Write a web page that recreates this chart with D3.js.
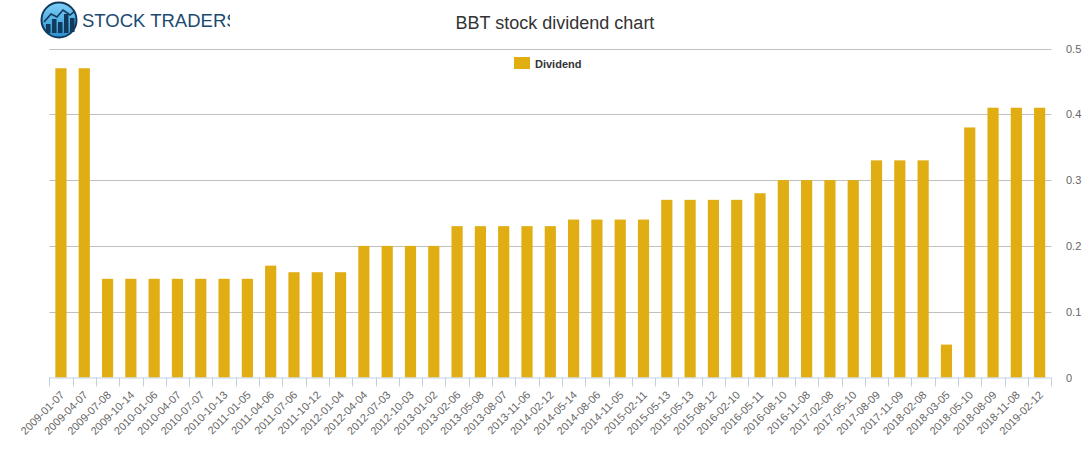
<!DOCTYPE html>
<html>
<head>
<meta charset="utf-8">
<script src="https://cdn.jsdelivr.net/npm/d3@7"></script>
<style>
  body { margin: 0; background: #fff; }
  text { font-family: "Liberation Sans", Arial, sans-serif; }
</style>
</head>
<body>
<div id="container"></div>
<script>
const w = 1091;
const h = 450;
const p = {top: 48.5, right: 40, bottom: 72.5, left: 49.3};

const dates = [
  '2009-01-07', '2009-04-07', '2009-07-08', '2009-10-14',
  '2010-01-06', '2010-04-07', '2010-07-07', '2010-10-13',
  '2011-01-05', '2011-04-06', '2011-07-06', '2011-10-12',
  '2012-01-04', '2012-04-04', '2012-07-03', '2012-10-03',
  '2013-01-02', '2013-02-06', '2013-05-08', '2013-08-07', '2013-11-06',
  '2014-02-12', '2014-05-14', '2014-08-06', '2014-11-05',
  '2015-02-11', '2015-05-13', '2015-05-13', '2015-08-12',
  '2016-02-10', '2016-05-11', '2016-08-10', '2016-11-08',
  '2017-02-08', '2017-05-10', '2017-08-09', '2017-11-09',
  '2018-02-08', '2018-03-05', '2018-05-10', '2018-08-09', '2018-11-08',
  '2019-02-12'
];
const dividends = [
  0.47, 0.47, 0.15, 0.15,
  0.15, 0.15, 0.15, 0.15,
  0.15, 0.17, 0.16, 0.16,
  0.16, 0.20, 0.20, 0.20,
  0.20, 0.23, 0.23, 0.23, 0.23,
  0.23, 0.24, 0.24, 0.24,
  0.24, 0.27, 0.27, 0.27,
  0.27, 0.28, 0.30, 0.30,
  0.30, 0.30, 0.33, 0.33,
  0.33, 0.05, 0.38, 0.41, 0.41,
  0.41
];
const yTicks = [0, 0.1, 0.2, 0.3, 0.4, 0.5];

const svg = d3.select('#container')
  .append('svg')
  .attr('width', w)
  .attr('height', h);

const x = d3.scaleBand()
  .domain(d3.range(dates.length))
  .range([p.left, w - p.right + 0.3])
  .paddingInner(0.52)
  .paddingOuter(0.26);

const y = d3.scaleLinear()
  .domain([0, 0.5])
  .range([h - p.bottom, p.top]);

// grid lines
svg.append('g')
  .selectAll('line')
  .data(yTicks.slice(1))
  .enter()
  .append('line')
  .attr('x1', p.left)
  .attr('x2', w - p.right + 0.3)
  .attr('y1', d => Math.round(y(d)) + 0.5)
  .attr('y2', d => Math.round(y(d)) + 0.5)
  .attr('stroke', '#c0c0c0')
  .attr('stroke-width', 1);

// y labels on the right
svg.append('g')
  .selectAll('text')
  .data(yTicks)
  .enter()
  .append('text')
  .attr('x', 1066)
  .attr('y', d => y(d) + 4)
  .attr('fill', '#666')
  .attr('font-size', 11)
  .text(d => d);

// bars
svg.append('g')
  .selectAll('rect')
  .data(dividends)
  .enter()
  .append('rect')
  .attr('x', (d, i) => x(i))
  .attr('y', d => y(d))
  .attr('width', x.bandwidth())
  .attr('height', d => y(0) - y(d))
  .attr('fill', '#e0ad12');

// x axis
const step = x.step();
const xAxis = d3.axisBottom(x)
  .tickSize(0)
  .tickFormat(i => dates[i]);

const gx = svg.append('g')
  .attr('transform', 'translate(0,' + (h - p.bottom) + ')')
  .call(xAxis);
gx.select('.domain')
  .attr('stroke', '#c0d0e0')
  .attr('d', 'M' + p.left + ',0.5H' + (w - p.right + 0.3));
gx.selectAll('.tick text')
  .attr('fill', '#666')
  .attr('font-size', 11)
  .attr('font-family', '"Liberation Sans", Arial, sans-serif')
  .attr('text-anchor', 'end')
  .attr('y', 0)
  .attr('dy', 0)
  .attr('transform', 'translate(4.2,18.2) rotate(-45)');

// tick marks on band edges
svg.append('g')
  .selectAll('line')
  .data(d3.range(dates.length + 1))
  .enter()
  .append('line')
  .attr('x1', i => Math.round(p.left + i * step) + 0.5)
  .attr('x2', i => Math.round(p.left + i * step) + 0.5)
  .attr('y1', h - p.bottom)
  .attr('y2', h - p.bottom + 9)
  .attr('stroke', '#c0d0e0');

// title
svg.append('text')
  .attr('x', 555)
  .attr('y', 28.5)
  .attr('text-anchor', 'middle')
  .attr('font-size', 18)
  .attr('fill', '#333')
  .text('BBT stock dividend chart');

// legend
svg.append('rect')
  .attr('x', 514)
  .attr('y', 57)
  .attr('width', 16)
  .attr('height', 12)
  .attr('fill', '#e0ad12');
svg.append('text')
  .attr('x', 535)
  .attr('y', 67.5)
  .attr('font-size', 11)
  .attr('font-weight', 'bold')
  .attr('fill', '#333')
  .text('Dividend');

// logo
const defs = svg.append('defs');
const grad = defs.append('linearGradient')
  .attr('id', 'logoGrad')
  .attr('x1', 0).attr('y1', 0).attr('x2', 0).attr('y2', 1);
grad.append('stop').attr('offset', '0%').attr('stop-color', '#7fd0fa');
grad.append('stop').attr('offset', '100%').attr('stop-color', '#2a8fd0');
defs.append('clipPath')
  .attr('id', 'logoClip')
  .append('rect')
  .attr('x', 0).attr('y', 0).attr('width', 230).attr('height', 45);

const logo = svg.append('g').attr('clip-path', 'url(#logoClip)');
logo.append('circle')
  .attr('cx', 59).attr('cy', 20).attr('r', 17.5)
  .attr('fill', 'url(#logoGrad)')
  .attr('stroke', '#123a5a')
  .attr('stroke-width', 2);
const logoBars = [[46, 24, 9], [52, 19, 14], [58, 22, 11], [64, 14, 19], [70, 18, 14]];
logo.selectAll('.lb')
  .data(logoBars)
  .enter()
  .append('rect')
  .attr('x', d => d[0])
  .attr('y', d => d[1])
  .attr('width', 4.5)
  .attr('height', d => d[2])
  .attr('fill', '#123a5a');
logo.append('path')
  .attr('d', 'M44,22 L51,14 L57,17 L63,10 L70,15 L75,11')
  .attr('fill', 'none')
  .attr('stroke', '#123a5a')
  .attr('stroke-width', 1.6);
logo.append('text')
  .attr('x', 82)
  .attr('y', 27)
  .attr('font-size', 18.5)
  .attr('fill', '#1b4a70')
  .text('STOCK TRADERS');
</script>
</body>
</html>
